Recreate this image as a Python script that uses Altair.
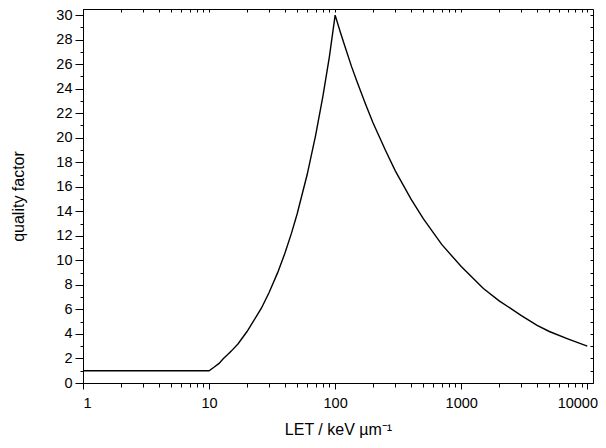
import altair as alt
import pandas as pd

# values
let_values = [1, 10, 11, 12, 13, 14, 15, 17, 20, 23, 26, 30, 35, 40, 45, 50, 60, 70, 80, 90, 100,
              110, 120, 135, 150, 175, 200, 250, 300, 400, 500, 700, 1000, 1500, 2000, 3000, 4000, 5000, 7000, 10000]
q_values = [1, 1, 1.3, 1.6, 2.0, 2.3, 2.6, 3.2, 4.2, 5.2, 6.1, 7.4, 9.0, 10.6, 12.2, 13.8, 17.0, 20.2, 23.4, 26.6, 30.0,
            28.6, 27.4, 25.8, 24.5, 22.7, 21.2, 19.0, 17.3, 15.0, 13.4, 11.3, 9.5, 7.7, 6.7, 5.5, 4.7, 4.2, 3.6, 3.0]

x_ticks = [m * 10 ** k for k in range(4) for m in range(1, 10)] + [10000]
y_ticks = list(range(0, 31))

df = pd.DataFrame({"LET": let_values, "Q": q_values})

FONT = "Liberation Sans"
major_x = "abs(log(datum.value)/LN10 - round(log(datum.value)/LN10)) < 0.001"
major_y = "datum.value % 2 == 0"

xscale = alt.Scale(type="log", domain=[1, 11100], nice=False)
yscale = alt.Scale(domain=[0, 30.5], nice=False, zero=False)

base = alt.Chart(df)

main = base.mark_line(color="black", strokeWidth=1.4).encode(
    x=alt.X("LET:Q", scale=xscale,
            axis=alt.Axis(orient="bottom", values=x_ticks, format="d",
                          labelExpr=f"({major_x}) ? datum.label : ''",
                          labelOffset={"condition": {"test": "datum.value >= 9999", "value": -10}, "value": 0},
                          tickSize={"condition": {"test": major_x, "value": 6}, "value": 4},
                          title="LET / keV µm⁻¹", titlePadding=12, labelPadding=7)),
    y=alt.Y("Q:Q", scale=yscale,
            axis=alt.Axis(orient="left", values=y_ticks,
                          labelExpr=f"({major_y}) ? datum.label : ''",
                          tickSize={"condition": {"test": major_y, "value": 8}, "value": 3},
                          title="quality factor", titlePadding=29, labelPadding=3)),
)

mirror = base.mark_line(opacity=0).encode(
    x=alt.X("LET:Q", scale=xscale,
            axis=alt.Axis(orient="top", values=x_ticks, labels=False, domain=False,
                          tickSize=3, offset=-3, title=None)),
    y=alt.Y("Q:Q", scale=yscale,
            axis=alt.Axis(orient="right", values=y_ticks, labels=False, domain=False,
                          tickSize=3, offset=-3, title=None)),
)

chart = alt.layer(main, mirror).resolve_axis(x="independent", y="independent").properties(
    width=510, height=374,
    autosize=alt.AutoSizeParams(type="none"),
    padding={"left": 75, "top": 1, "right": 5, "bottom": 57},
).configure_view(stroke="black", strokeWidth=1).configure_axis(
    grid=False, domainColor="black", tickColor="black", labelColor="black",
    titleColor="black", labelFont=FONT, titleFont=FONT, labelFontSize=14.5,
    titleFontSize=16, titleFontWeight="normal", domainWidth=1, tickWidth=1,
)

chart.save("out.html", embed_options={"renderer": "svg", "actions": False})
